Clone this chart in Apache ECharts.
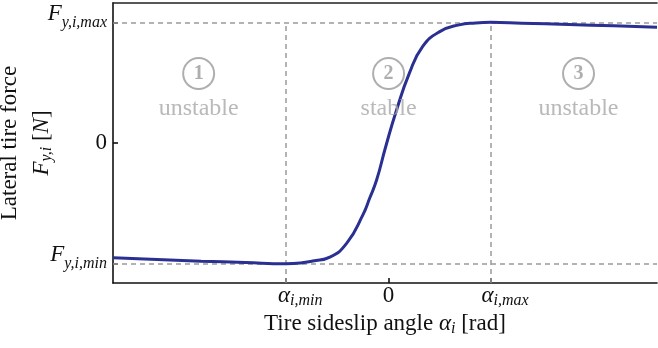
<!DOCTYPE html>
<html>
<head>
<meta charset="utf-8">
<script src="https://cdn.jsdelivr.net/npm/echarts@6/dist/echarts.min.js"></script>
<style>html,body{margin:0;padding:0;background:#fff}#c{width:658px;height:348px}</style>
</head>
<body>
<div id="c"></div>
<script>
// ---- data (alpha in units of alpha_max, F in units of F_max) ----
const alpha = [-2.69, -2.32, -1.83, -1.4, -1.0, -0.86, -0.74, -0.573, -0.408, -0.252, -0.184, -0.117, -0.029, 0.078, 0.204, 0.330, 0.495, 0.689, 0.85, 1.0, 1.3, 1.76, 2.2, 2.62];
const force = [-0.951, -0.963, -0.979, -0.990, -1.0, -0.994, -0.978, -0.946, -0.830, -0.598, -0.456, -0.307, -0.033, 0.274, 0.581, 0.797, 0.921, 0.979, 0.995, 1.0, 0.993, 0.982, 0.971, 0.960];
const xTicks = [-1, 0, 1];
const xTickLabels = ['min', '0', 'max'];
const yTicks = [-1, 0, 1];
const yTickLabels = ['min', '0', 'max'];
const regionX = [-1.854, 0, 1.854];
const regionNum = ['1', '2', '3'];
const regionText = ['unstable', 'stable', 'unstable'];
const xRange = [-2.69, 2.62];
const yRange = [-1.16, 1.16];

const SERIF = '"Liberation Serif", "DejaVu Serif", serif';
const INK = '#111';
const GRAY = '#9a9a9a';

const chart = echarts.init(document.getElementById('c'), null, {renderer: 'canvas'});

const mainTok = {fontFamily: SERIF, fontStyle: 'italic', fontSize: 23, color: INK, lineHeight: 20, verticalAlign: 'top'};
const plainTok = {fontFamily: SERIF, fontSize: 23, color: INK, lineHeight: 20, verticalAlign: 'top'};
const subTok = {fontFamily: SERIF, fontStyle: 'italic', fontSize: 16, color: INK, lineHeight: 34, verticalAlign: 'middle'};

const curve = alpha.map((a, i) => [a, force[i]]);

chart.setOption({
  animation: false,
  grid: {left: 113, right: 1, top: 3, bottom: 65, containLabel: false, outerBoundsMode: 'none'},
  xAxis: [{
    type: 'value', min: xRange[0], max: xRange[1], position: 'bottom',
    axisLine: {show: true, onZero: false, lineStyle: {color: INK, width: 1.6}},
    axisTick: {show: true, inside: true, length: 5, lineStyle: {color: INK, width: 1.6}, customValues: xTicks},
    splitLine: {show: false},
    axisLabel: {
      show: true, margin: 1, customValues: xTicks,
      formatter: v => {
        const k = xTicks.indexOf(Math.round(v));
        const t = xTickLabels[k];
        if (t === '0') return '{p|0}';
        return '{sp| }{a|α}{s|i,' + t + '}';
      },
      rich: {
        p: plainTok,
        a: mainTok,
        s: subTok,
        sp: {width: 28, fontSize: 10, lineHeight: 20, verticalAlign: 'top'}
      }
    },
    name: '{p|Tire sideslip angle }{a|α}{s|i}{p| [rad]}',
    nameLocation: 'middle', nameGap: 29, nameMoveOverlap: false,
    nameTextStyle: {
      fontFamily: SERIF, fontSize: 23, color: INK, verticalAlign: 'top',
      rich: {p: plainTok, a: mainTok, s: subTok}
    }
  }, {
    type: 'value', min: xRange[0], max: xRange[1], position: 'top',
    axisLine: {show: true, onZero: false, lineStyle: {color: '#222', width: 1.6}},
    axisTick: {show: false}, axisLabel: {show: false}, splitLine: {show: false}
  }],
  yAxis: {
    type: 'value', min: yRange[0], max: yRange[1],
    axisLine: {show: true, onZero: false, lineStyle: {color: INK, width: 1.6}},
    axisTick: {show: true, inside: true, length: 5, lineStyle: {color: INK, width: 1.6}, customValues: yTicks},
    splitLine: {show: false},
    axisLabel: {
      show: true, margin: 6, customValues: yTicks,
      formatter: v => {
        const k = yTicks.indexOf(Math.round(v));
        const t = yTickLabels[k];
        if (t === '0') return '{p|0}';
        return '{F|F}{s|y,i,' + t + '}';
      },
      rich: {
        p: {fontFamily: SERIF, fontSize: 23, color: INK, lineHeight: 20},
        F: mainTok,
        s: Object.assign({}, subTok, {lineHeight: 40})
      }
    },
    name: '{L|Lateral tire force}\n{F|F}{s|y,i}{p| [}{F|N}{p|]}',
    nameLocation: 'middle', nameRotate: 90, nameGap: 49, nameMoveOverlap: false,
    nameTextStyle: {
      fontFamily: SERIF, fontSize: 23, color: INK,
      rich: {
        L: {fontFamily: SERIF, fontSize: 23, color: INK, lineHeight: 40, verticalAlign: 'middle'},
        p: plainTok, F: mainTok, s: subTok
      }
    }
  },
  series: [{
    type: 'line',
    data: curve,
    showSymbol: false,
    smooth: 0.5,
    z: 3,
    lineStyle: {color: '#2a2f92', width: 3},
    markLine: {
      silent: true, symbol: 'none', z: 2,
      label: {show: false},
      lineStyle: {color: GRAY, width: 1.5, type: [5, 4]},
      data: [
        [{coord: [xRange[0], yTicks[2]]}, {coord: [xRange[1], yTicks[2]]}],
        [{coord: [xRange[0], yTicks[0]]}, {coord: [xRange[1], yTicks[0]]}],
        [{coord: [xTicks[0], yRange[0]]}, {coord: [xTicks[0], yTicks[2]]}],
        [{coord: [xTicks[2], yRange[0]]}, {coord: [xTicks[2], yTicks[2]]}]
      ]
    }
  }, {
    type: 'scatter',
    silent: true,
    z: 4,
    data: regionX.map((x, i) => ({value: [x, 0.575], name: regionNum[i]})),
    symbol: 'circle',
    symbolSize: 31,
    itemStyle: {color: 'rgba(255,255,255,0)', borderColor: GRAY, borderWidth: 2},
    label: {show: true, position: 'inside', formatter: p => p.name, fontFamily: SERIF, fontWeight: 'bold', fontSize: 20, color: GRAY}
  }, {
    type: 'scatter',
    silent: true,
    z: 4,
    data: regionX.map((x, i) => ({value: [x, 0.285], name: regionText[i]})),
    symbol: 'circle',
    symbolSize: 0,
    label: {show: true, position: 'inside', formatter: p => p.name, fontFamily: SERIF, fontSize: 24, color: '#a8a8a8'}
  }]
});
</script>
</body>
</html>
